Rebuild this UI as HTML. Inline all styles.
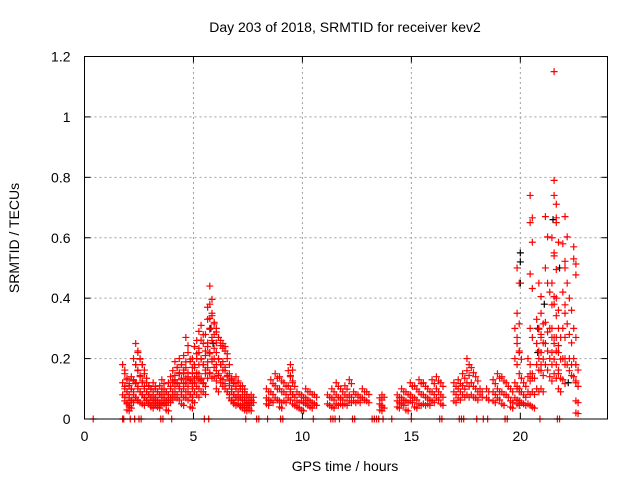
<!DOCTYPE html>
<html><head><meta charset="utf-8"><style>
body{margin:0;background:#fff}
svg{display:block;font-family:"Liberation Sans",sans-serif}
</style></head><body>
<svg id="chart" width="640" height="480" viewBox="0 0 640 480">
<text x="345" y="32" font-size="14" text-anchor="middle">Day 203 of 2018, SRMTID for receiver kev2</text>
<text transform="translate(19,238) rotate(-90)" font-size="14" text-anchor="middle">SRMTID / TECUs</text>
<text x="345" y="471" font-size="14" text-anchor="middle">GPS time / hours</text>
<g id="grid"></g><g id="axes"></g><g id="marks"></g>
<rect x="84.5" y="56.5" width="523" height="362.5" fill="none" stroke="#000" stroke-width="1"/>
</svg>
<script>
const xTicks=[0,5,10,15,20];
const yTicks=[0,0.2,0.4,0.6,0.8,1,1.2];
const yTickLabels=["0","0.2","0.4","0.6","0.8","1","1.2"];
const redGroups=[
[1.8,[.18,.12,.08]],[1.9,[.15,.1,.06]],[2.0,[.13,.09,.05,.03]],[2.1,[.11,.07,.04]],[2.2,[.14,.1,.06]],[2.3,[.2,.13,.08]],[2.4,[.25,.18,.12,.07]],[2.5,[.22,.16,.1,.06]],[2.6,[.2,.14,.09]],[2.7,[.18,.12,.08,.05]],[2.8,[.15,.1,.07]],[2.9,[.12,.09,.06]],[3.0,[.11,.08,.05]],[3.1,[.1,.07,.04]],[3.2,[.12,.08,.06]],[3.3,[.1,.07,.05]],[3.4,[.09,.06,.04]],[3.5,[.11,.08,.05]],[3.6,[.13,.09,.06]],[3.7,[.1,.07,.05]],[3.8,[.09,.06,.03]],[3.9,[.12,.08,.06]],[4.0,[.14,.1,.07]],[4.1,[.16,.12,.08]],[4.2,[.19,.13,.09]],[4.3,[.17,.12,.07]],[4.4,[.2,.15,.1]],[4.5,[.18,.13,.08,.05]],[4.6,[.21,.15,.1]],[4.7,[.27,.17,.12,.07]],[4.8,[.22,.14,.09]],[4.9,[.19,.13,.08,.04]],[5.0,[.2,.15,.1,.06]],[5.1,[.24,.17,.12]],[5.2,[.26,.2,.14,.08]],[5.3,[.29,.22,.15,.1]],[5.4,[.31,.2,.13]],[5.5,[.25,.18,.12,.09]],[5.6,[.28,.21,.15]],[5.7,[.37,.33,.24,.17]],[5.8,[.44,.38,.3,.22,.15]],[5.9,[.35,.26,.19]],[6.0,[.32,.28,.2,.14]],[6.1,[.3,.22,.16,.1]],[6.2,[.27,.2,.15]],[6.3,[.26,.18,.12]],[6.4,[.25,.19,.13]],[6.5,[.24,.16,.1]],[6.6,[.2,.14,.09]],[6.7,[.15,.11,.07]],[6.8,[.13,.09,.06]],[6.9,[.12,.08,.05]],[7.0,[.14,.1,.07]],[7.1,[.12,.08,.05]],[7.2,[.1,.07,.04]],[7.3,[.11,.08,.05]],[7.4,[.09,.06,.03]],[7.5,[.08,.06,.04]],[7.6,[.07,.05,.03]],[7.7,[.08,.06]],
[8.4,[.1,.07,.05]],[8.6,[.13,.09,.06]],[8.8,[.15,.11,.07]],[9.0,[.14,.1,.06,.04]],[9.2,[.12,.09,.06]],[9.4,[.16,.11,.07]],[9.5,[.18,.14,.09]],[9.6,[.12,.08,.05]],[9.8,[.09,.06,.04]],[10.0,[.08,.06,.03]],[10.2,[.1,.07,.05]],[10.4,[.09,.06,.04]],[10.6,[.08,.05]],
[11.2,[.08,.05]],[11.4,[.1,.07,.04]],[11.6,[.12,.08,.05]],[11.8,[.1,.07,.05]],[12.0,[.11,.08,.05]],[12.2,[.13,.08,.06]],[12.4,[.09,.06]],[12.6,[.08,.06]],[12.8,[.1,.07]],[13.0,[.09,.06]],[13.6,[.07,.05,.03]],[13.7,[.08,.04]],
[14.4,[.08,.06,.04]],[14.6,[.1,.07,.05]],[14.8,[.09,.06,.03]],[15.0,[.12,.08,.06]],[15.2,[.11,.07,.04]],[15.4,[.13,.09,.05]],[15.6,[.12,.08,.05]],[15.8,[.1,.07,.05]],[16.0,[.13,.09,.06]],[16.2,[.14,.1,.07]],[16.4,[.12,.08,.05]],
[17.0,[.12,.09,.06]],[17.2,[.13,.1,.07]],[17.4,[.15,.11,.08]],[17.6,[.2,.16,.12,.08]],[17.8,[.17,.12,.08]],[18.0,[.14,.1,.07]],[18.2,[.1,.08]],[18.5,[.1,.07]],[18.8,[.13,.09,.06]],[19.0,[.15,.1,.07]],[19.2,[.14,.09,.05]],[19.4,[.12,.08]],[19.6,[.1,.06,.04]],
[19.8,[.3,.2,.12,.07]],[19.9,[.5,.35,.25,.1,.05]],[20.0,[.22,.15,.1,.06]],[20.2,[.12,.08,.05]],[20.4,[.2,.14,.09,.05]],[20.5,[.74,.65,.48,.3,.15]],[20.6,[.15,.09,.04]],[20.8,[.33,.25,.18,.1]],[20.9,[.45,.3,.2]],[21.0,[.35,.28,.22,.16,.1]],[21.2,[.67,.5,.32,.25,.18]],[21.4,[.42,.3,.2,.14]],[21.5,[.6,.45,.3,.22]],[21.6,[1.15,.79,.74,.55,.38,.25,.15]],[21.7,[.65,.4,.27,.18]],[21.8,[.3,.22,.15,.1]],[22.0,[.58,.42,.3,.2,.13]],[22.1,[.67,.5,.35,.2]],[22.3,[.4,.28,.2,.16]],[22.5,[.57,.53,.3,.2,.14]],[22.6,[.18,.12,.06,.02]]
];
const zeroTimes=[0.4,1.75,1.8,2.1,2.3,2.5,2.6,3.5,3.6,4.0,5.5,5.7,7.4,7.9,8.0,8.4,9.0,9.1,10.5,11.3,11.4,11.5,11.7,12.3,12.4,13.2,13.3,13.4,13.5,13.7,14.1,15.0,16.3,16.4,17.2,17.3,17.4,18.0,18.3,18.5,19.3,19.4,20.9,21.7,21.8];
const blackTimes=[20.0,20.0,20.0,20.8,20.8,21.1,21.5,21.8,22.2,5.8,5.9];
const blackValues=[.55,.52,.45,.3,.22,.38,.66,.5,.12,.3,.25];
const NS="http://www.w3.org/2000/svg";
const X0=84.5,X1=607.5,Y0=419,Y1=56.5;
function xs(t){return X0+(t/24)*(X1-X0);}
function ys(v){return Y0-(v/1.2)*(Y0-Y1);}
const grid=document.getElementById('grid'),axes=document.getElementById('axes'),marks=document.getElementById('marks');
function mk(tag,attrs,parent){const e=document.createElementNS(NS,tag);for(const k in attrs)e.setAttribute(k,attrs[k]);parent.appendChild(e);return e;}
xTicks.forEach(t=>{
 const x=xs(t);
 if(t>0){const g=mk('line',{x1:x,x2:x,y1:Y0,y2:Y1,stroke:'#a0a0a0','stroke-dasharray':'2,3'},grid);
 
 }
 mk('line',{x1:x,x2:x,y1:Y0,y2:Y0-6,stroke:'#000'},axes);
 mk('line',{x1:x,x2:x,y1:Y1,y2:Y1+6,stroke:'#000'},axes);
 const l=mk('text',{x:x,y:Y0+22,'font-size':14,'text-anchor':'middle'},axes);
 l.textContent=t;
 
 
});
yTicks.forEach((v,i)=>{
 const y=ys(v);
 if(v>0&&v<1.2){const g=mk('line',{x1:X0,x2:X1,y1:y,y2:y,stroke:'#a0a0a0','stroke-dasharray':'2,3'},grid);
 
 }
 mk('line',{x1:X0,x2:X0+6,y1:y,y2:y,stroke:'#000'},axes);
 mk('line',{x1:X1,x2:X1-6,y1:y,y2:y,stroke:'#000'},axes);
 const l=mk('text',{x:X0-14,y:y+5,'font-size':14,'text-anchor':'end'},axes);
 l.textContent=yTickLabels[i];
 
 
});
function plus(t,v,color,name){
 const x=xs(t),y=ys(v);
 const p=mk('path',{d:`M${x-3.5},${y}H${x+3.5}M${x},${y-3.5}V${y+3.5}`,stroke:color,'stroke-width':1.2,fill:'none'},marks);
 
 
}
blackTimes.forEach((t,i)=>plus(t,blackValues[i],'#000','black-point'));
redGroups.forEach(g=>g[1].forEach(v=>{plus(g[0]-0.05,v,'#f00','red-point');if(v<1)plus(g[0]+0.05,v*0.9,'#f00','red-point');}));
zeroTimes.forEach(t=>plus(t,0,'#f00','zero-point'));
</script>
</body></html>
